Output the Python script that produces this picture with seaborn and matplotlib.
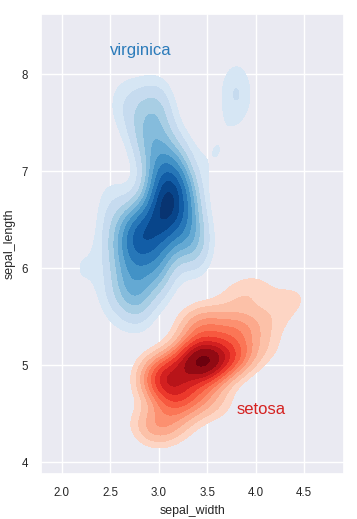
import numpy as np
import pandas as pd
import matplotlib
matplotlib.use("Agg")
import matplotlib.pyplot as plt
from matplotlib.colors import ListedColormap
import seaborn as sns

# iris data: setosa and virginica sepal measurements
setosa_sepal_width = [3.5, 3.0, 3.2, 3.1, 3.6, 3.9, 3.4, 3.4, 2.9, 3.1,
                      3.7, 3.4, 3.0, 3.0, 4.0, 4.4, 3.9, 3.5, 3.8, 3.8,
                      3.4, 3.7, 3.6, 3.3, 3.4, 3.0, 3.4, 3.5, 3.4, 3.2,
                      3.1, 3.4, 4.1, 4.2, 3.1, 3.2, 3.5, 3.6, 3.0, 3.4,
                      3.5, 2.3, 3.2, 3.5, 3.8, 3.0, 3.8, 3.2, 3.7, 3.3]
setosa_sepal_length = [5.1, 4.9, 4.7, 4.6, 5.0, 5.4, 4.6, 5.0, 4.4, 4.9,
                       5.4, 4.8, 4.8, 4.3, 5.8, 5.7, 5.4, 5.1, 5.7, 5.1,
                       5.4, 5.1, 4.6, 5.1, 4.8, 5.0, 5.0, 5.2, 5.2, 4.7,
                       4.8, 5.4, 5.2, 5.5, 4.9, 5.0, 5.5, 4.9, 4.4, 5.1,
                       5.0, 4.5, 4.4, 5.0, 5.1, 4.8, 5.1, 4.6, 5.3, 5.0]
virginica_sepal_width = [3.3, 2.7, 3.0, 2.9, 3.0, 3.0, 2.5, 2.9, 2.5, 3.6,
                         3.2, 2.7, 3.0, 2.5, 2.8, 3.2, 3.0, 3.8, 2.6, 2.2,
                         3.2, 2.8, 2.8, 2.7, 3.3, 3.2, 2.8, 3.0, 2.8, 3.0,
                         2.8, 3.8, 2.8, 2.8, 2.6, 3.0, 3.4, 3.1, 3.0, 3.1,
                         3.1, 3.1, 2.7, 3.2, 3.3, 3.0, 2.5, 3.0, 3.4, 3.0]
virginica_sepal_length = [6.3, 5.8, 7.1, 6.3, 6.5, 7.6, 4.9, 7.3, 6.7, 7.2,
                          6.5, 6.4, 6.8, 5.7, 5.8, 6.4, 6.5, 7.7, 7.7, 6.0,
                          6.9, 5.6, 7.7, 6.3, 6.7, 7.2, 6.2, 6.1, 6.4, 7.2,
                          7.4, 7.9, 6.4, 6.3, 6.1, 7.7, 6.3, 6.4, 6.0, 6.9,
                          6.7, 6.9, 5.8, 6.8, 6.7, 6.7, 6.3, 6.5, 6.2, 5.9]

setosa = pd.DataFrame({"sepal_width": setosa_sepal_width,
                       "sepal_length": setosa_sepal_length})
virginica = pd.DataFrame({"sepal_width": virginica_sepal_width,
                          "sepal_length": virginica_sepal_length})

sns.set_theme(style="darkgrid")
plt.rcParams["font.family"] = ["Liberation Sans", "DejaVu Sans"]


def trimmed_cmap(name, start=0.13):
    # drop the near-white end, like the old "shade_lowest=False" look
    base = sns.color_palette(name, as_cmap=True)
    return ListedColormap(base(np.linspace(start, 1.0, 256)))


def axis_scott_bw(kde):
    # old seaborn/statsmodels style: one scott bandwidth per axis, no correlation
    data = kde.dataset
    n = data.shape[1]
    sd = data.std(axis=1, ddof=1)
    q75, q25 = np.percentile(data, [75, 25], axis=1)
    bw = 1.059 * np.minimum(sd, (q75 - q25) / 1.349) * n ** -0.2
    kde._data_covariance = np.diag(bw ** 2)
    kde._data_inv_cov = np.diag(bw ** -2.0)
    kde._data_cho_cov = np.diag(bw)
    return 1.0


fig = plt.figure(figsize=(3.57, 5.19), dpi=100)
ax = fig.add_axes([41 / 357, 1 - 474 / 519, 303 / 357, 460 / 519])

# small top band so the darkest shade is only a spot at the peak
red_levels = list(np.linspace(0.1, 0.91, 10)) + [0.985, 1.0]
blue_levels = list(np.linspace(0.14, 0.9, 9)) + [0.975, 1.0]
sns.kdeplot(data=setosa, x="sepal_width", y="sepal_length",
            cmap=trimmed_cmap("Reds"), fill=True, levels=red_levels,
            bw_method=axis_scott_bw, ax=ax)
sns.kdeplot(data=virginica, x="sepal_width", y="sepal_length",
            cmap=trimmed_cmap("Blues"), fill=True, levels=blue_levels,
            bw_method=axis_scott_bw, ax=ax)

red = sns.color_palette("Reds")[-2]
blue = sns.color_palette("Blues")[-2]
ax.text(2.5, 8.2, "virginica", size=12, color=blue)
ax.text(3.8, 4.5, "setosa", size=12, color=red)

ax.set_xlim(1.787, 4.91)
ax.set_ylim(3.88, 8.62)
ax.set_xticks([2.0, 2.5, 3.0, 3.5, 4.0, 4.5])
ax.set_yticks([4, 5, 6, 7, 8])
ax.tick_params(labelsize=8.3)
ax.set_xlabel("sepal_width", fontsize=8.9)
ax.set_ylabel("sepal_length", fontsize=8.9)

fig.savefig("out.png", dpi=100)
